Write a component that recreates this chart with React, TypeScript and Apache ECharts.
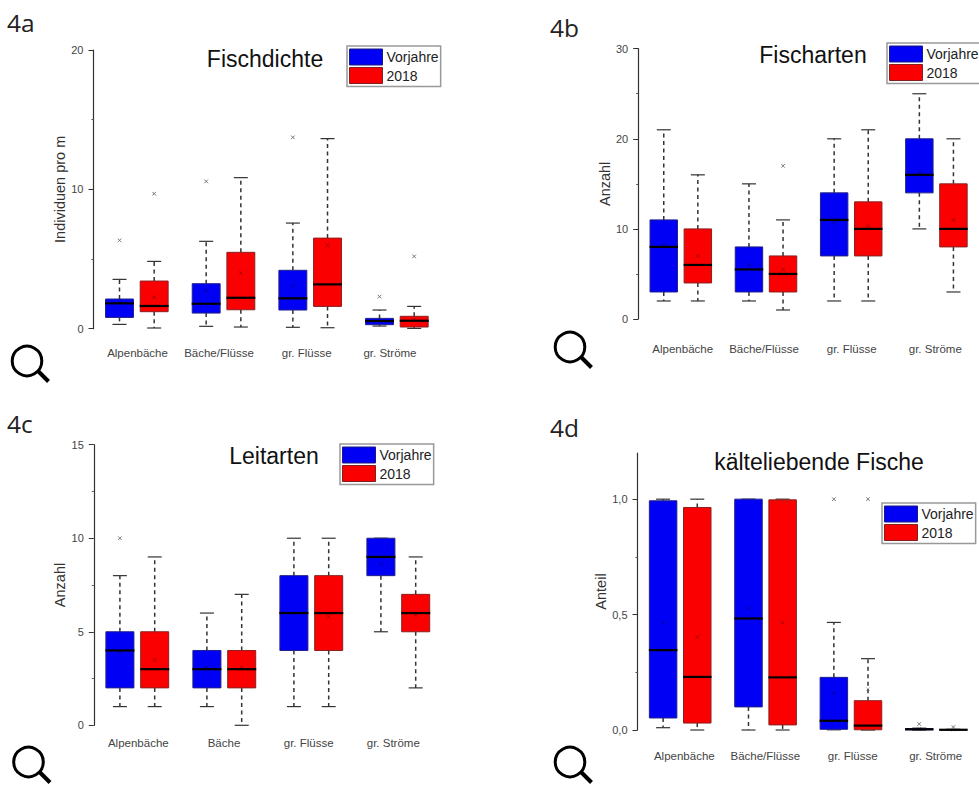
import React, { useEffect, useRef } from "react";
import * as echarts from "echarts";

// each row: min, q1, median, q3, max, mean, outlier (null = none)
const groupsA = ["Alpenbäche", "Bäche/Flüsse", "gr. Flüsse", "gr. Ströme"];
const groupsB = ["Alpenbäche", "Bäche/Flüsse", "gr. Flüsse", "gr. Ströme"];
const groupsC = ["Alpenbäche", "Bäche", "gr. Flüsse", "gr. Ströme"];
const groupsD = ["Alpenbäche", "Bäche/Flüsse", "gr. Flüsse", "gr. Ströme"];

const dichteVorjahre = [
  [0.31, 0.81, 1.82, 2.13, 3.54, 1.9, 6.34],
  [0.17, 1.12, 1.79, 3.23, 6.27, 2.73, 10.57],
  [0.1, 1.34, 2.18, 4.19, 7.58, 3.09, 13.73],
  [0.19, 0.29, 0.55, 0.74, 1.34, 0.64, 2.3],
];
const dichte2018 = [
  [0.05, 1.22, 1.63, 3.42, 4.83, 2.25, 9.69],
  [0.12, 1.36, 2.22, 5.48, 10.84, 4.0, null],
  [0.07, 1.6, 3.18, 6.5, 13.64, 5.98, null],
  [0.02, 0.12, 0.57, 0.89, 1.6, 0.64, 5.19],
];
const artenVorjahre = [
  [2, 3, 8, 11, 21, 8.2, null],
  [2, 3, 5.5, 8, 15, 6, null],
  [2, 7, 11, 14, 20, 10.7, null],
  [10, 14, 16, 20, 25, 16.3, null],
];
const arten2018 = [
  [2, 4, 6, 10, 16, 7, null],
  [1, 3, 5, 7, 11, 5.5, 17],
  [2, 7, 10, 13, 21, 10.3, null],
  [3, 8, 10, 15, 20, 11, null],
];
const leitVorjahre = [
  [1, 2, 4, 5, 8, 3.9, 10],
  [1, 2, 3, 4, 6, 3.1, null],
  [1, 4, 6, 8, 10, 6, null],
  [5, 8, 9, 10, 10, 8.6, null],
];
const leit2018 = [
  [1, 2, 3, 5, 9, 3.5, null],
  [0, 2, 3, 4, 7, 3.1, null],
  [1, 4, 6, 8, 10, 5.8, null],
  [2, 5, 6, 7, 9, 5.9, null],
];
const kaltVorjahre = [
  [0.01, 0.052, 0.346, 0.993, 1, 0.465, null],
  [0, 0.1, 0.483, 1, 1, 0.527, null],
  [0.001, 0.003, 0.04, 0.228, 0.466, 0.16, 1],
  [0, 0.001, 0.003, 0.006, 0.008, 0.005, 0.026],
];
const kalt2018 = [
  [0, 0.03, 0.23, 0.964, 1, 0.403, null],
  [0, 0.022, 0.228, 0.997, 1, 0.465, null],
  [0, 0.001, 0.019, 0.127, 0.309, 0.177, 1],
  [0, 0, 0.001, 0.002, 0.003, 0.002, 0.013],
];

const FONT = "Liberation Sans";
const BLUE = "#0000f5";
const RED = "#fb0000";

const panels = [
  {
    tag: "4a", tagX: 7, tagY: 22, title: "Fischdichte", titleX: 265, titleY: 60, yName: "Individuen pro m", nameGap: 26,
    left: 93.5, top: 50, w: 346.7, h: 278.7, max: 20, interval: 10, cats: groupsA, v: dichteVorjahre, r: dichte2018,
    labelX: [137.5, 219, 306.7, 390], labelY: 352.5, legendX: 347, legendY: 46, glassX: 27, glassY: 361,
  },
  {
    tag: "4b", tagX: 550, tagY: 27, title: "Fischarten", titleX: 813, titleY: 56, yName: "Anzahl", nameGap: 26,
    left: 638.2, top: 48.7, w: 346.7, h: 270.3, max: 30, interval: 10, cats: groupsB, v: artenVorjahre, r: arten2018,
    labelX: [682.7, 764, 851.7, 935.3], labelY: 349, legendX: 887, legendY: 43, glassX: 570, glassY: 347,
  },
  {
    tag: "4c", tagX: 7, tagY: 423, title: "Leitarten", titleX: 274, titleY: 457, yName: "Anzahl", nameGap: 26,
    left: 93.8, top: 444.7, w: 348, h: 280.6, max: 15, interval: 5, cats: groupsC, v: leitVorjahre, r: leit2018,
    labelX: [138.3, 224, 308.7, 393.3], labelY: 743.3, legendX: 340, legendY: 444, glassX: 28.5, glassY: 762,
  },
  {
    tag: "4d", tagX: 550, tagY: 427, title: "kälteliebende Fische", titleX: 819, titleY: 463, yName: "Anteil", nameGap: 29,
    left: 637.5, top: 453, w: 346.4, h: 277, max: 1.2, interval: 0.5, cats: groupsD, v: kaltVorjahre, r: kalt2018,
    labelX: [684.3, 765.3, 852.7, 935.7], labelY: 756.3, legendX: 882, legendY: 503, glassX: 570, glassY: 762,
  },
];

function boxSeries(name: string, color: string, border: string, side: number, rows: (number | null)[][], index: number) {
  return {
    type: "custom",
    name,
    xAxisIndex: index,
    yAxisIndex: index,
    clip: false,
    z: 2,
    itemStyle: { color },
    data: rows.map((row, i) => [i, ...row.map((v) => (v === null ? NaN : v))]),
    renderItem: (_p: any, api: any) => {
      const band = api.size([1, 0])[0];
      const base = api.coord([api.value(0), 0])[0];
      const cx = base + side * band * 0.2;
      const half = band * 0.161;
      const y = (v: number) => api.coord([api.value(0), v])[1];
      const [yMin, yQ1, yMed, yQ3, yMax] = [1, 2, 3, 4, 5].map((d) => y(api.value(d)));
      const line = (x1: number, y1: number, x2: number, y2: number, style: any) => ({
        type: "line",
        shape: { x1, y1, x2, y2 },
        style: { fill: null, ...style },
      });
      const cross = (cy: number, stroke: string) => [
        line(cx - 1.8, cy - 1.8, cx + 1.8, cy + 1.8, { stroke, lineWidth: 1 }),
        line(cx - 1.8, cy + 1.8, cx + 1.8, cy - 1.8, { stroke, lineWidth: 1 }),
      ];
      const whisker = { stroke: "#333", lineWidth: 1.5, lineDash: [4, 3.5] };
      const cap = { stroke: "#333", lineWidth: 1.2 };
      const children: any[] = [
        line(cx, yQ3, cx, yMax, whisker),
        line(cx, yQ1, cx, yMin, whisker),
        line(cx - 7, yMax, cx + 7, yMax, cap),
        line(cx - 7, yMin, cx + 7, yMin, cap),
        {
          type: "rect",
          shape: { x: cx - half, y: yQ3, width: half * 2, height: Math.max(yQ1 - yQ3, 0.5) },
          style: { fill: color, stroke: border, lineWidth: 1 },
        },
        ...cross(y(api.value(6)), "rgba(0,0,0,0.3)"),
        line(cx - half - 0.5, yMed, cx + half + 0.5, yMed, { stroke: "#000", lineWidth: 2.2 }),
      ];
      const outlier = api.value(7);
      if (!isNaN(outlier)) children.push(...cross(y(outlier), "#777"));
      return { type: "group", children };
    },
  };
}

export default function App() {
  const ref = useRef<HTMLDivElement>(null);
  useEffect(() => {
    const chart = echarts.init(ref.current!, undefined, { renderer: "svg" });
    const textBase = { fontFamily: FONT };

    const xAxis = panels.map((p, i) => ({
      type: "category",
      gridIndex: i,
      data: p.cats,
      axisLine: { show: false },
      axisTick: { show: false },
      axisLabel: { show: false },
    }));
    const yAxis: any[] = panels.map((p, i) => {
      const isFraction = p.max === 1.2;
      return {
        type: "value",
        gridIndex: i,
        min: 0,
        max: p.max,
        interval: p.interval,
        position: "left",
        name: p.yName,
        nameLocation: "middle",
        nameRotate: 90,
        nameGap: p.nameGap,
        nameTextStyle: { ...textBase, fontSize: 14.5, color: "#333" },
        splitLine: { show: false },
        axisLine: { show: true, lineStyle: { color: "#333", width: 1.2 } },
        axisTick: {
          show: true,
          length: 5,
          lineStyle: { color: "#333", width: 1 },
          ...(isFraction ? { customValues: [0, 0.5, 1] } : {}),
        },
        minorTick: { show: !isFraction, splitNumber: 2, length: 2, lineStyle: { color: "#555", width: 1 } },
        axisLabel: {
          ...textBase,
          fontSize: 11,
          color: "#444",
          margin: 10,
          ...(isFraction ? { customValues: [0, 0.5, 1] } : {}),
          formatter: (v: number) => (isFraction ? v.toFixed(1).replace(".", ",") : String(v)),
        },
      };
    });
    yAxis.push({
      type: "value",
      gridIndex: 3,
      min: 0,
      max: 1.2,
      position: "left",
      splitLine: { show: false },
      axisLine: { show: false },
      axisLabel: { show: false },
      axisTick: { show: true, length: 2, customValues: [0.25, 0.75], lineStyle: { color: "#555", width: 1 } },
    });

    const graphic: any[] = [];
    panels.forEach((p) => {
      graphic.push({
        type: "text",
        x: p.tagX,
        y: p.tagY,
        style: { text: p.tag, fontFamily: "Open Sans", fontSize: 24.5, fill: "#222", verticalAlign: "middle" },
      });
      p.cats.forEach((c, i) => {
        graphic.push({
          type: "text",
          x: p.labelX[i],
          y: p.labelY,
          style: { text: c, fontFamily: FONT, fontSize: 11.5, fill: "#444", align: "center", verticalAlign: "middle" },
        });
      });
      graphic.push({
        type: "circle",
        shape: { cx: p.glassX, cy: p.glassY, r: 14.8 },
        style: { fill: "none", stroke: "#000", lineWidth: 3 },
      });
      graphic.push({
        type: "line",
        shape: { x1: p.glassX + 11, y1: p.glassY + 10, x2: p.glassX + 21.5, y2: p.glassY + 20.5 },
        style: { stroke: "#000", lineWidth: 4 },
      });
    });

    chart.setOption({
      animation: false,
      backgroundColor: "#fff",
      title: panels.map((p) => ({
        text: p.title,
        left: p.titleX,
        top: p.titleY - 13,
        padding: 0,
        textAlign: "center",
        textStyle: { ...textBase, fontSize: 23, fontWeight: "normal", color: "#111" },
      })),
      legend: panels.map((p) => ({
        left: p.legendX,
        top: p.legendY,
        orient: "vertical",
        selectedMode: false,
        icon: "rect",
        itemWidth: 33,
        itemHeight: 16,
        itemGap: 1.5,
        padding: [2.5, 2, 2.5, 2],
        backgroundColor: "#fff",
        borderColor: "#999",
        borderWidth: 1.5,
        borderRadius: 0,
        textStyle: { ...textBase, fontSize: 14, color: "#222", padding: [0, 0, 0, -1] },
        data: [
          { name: "Vorjahre", itemStyle: { color: BLUE, borderColor: "#1a1a80", borderWidth: 1 } },
          { name: "2018", itemStyle: { color: RED, borderColor: "#802020", borderWidth: 1 } },
        ],
      })),
      grid: panels.map((p) => ({ left: p.left, top: p.top, width: p.w, height: p.h, containLabel: false })),
      xAxis,
      yAxis,
      graphic: { elements: graphic },
      series: panels.flatMap((p, i) => [
        boxSeries("Vorjahre", BLUE, "#20208a", -1, p.v, i),
        boxSeries("2018", RED, "#8a2020", 1, p.r, i),
      ]),
    });
    return () => chart.dispose();
  }, []);
  return <div ref={ref} style={{ position: "absolute", left: 0, top: 0, width: 979, height: 785 }} />;
}
